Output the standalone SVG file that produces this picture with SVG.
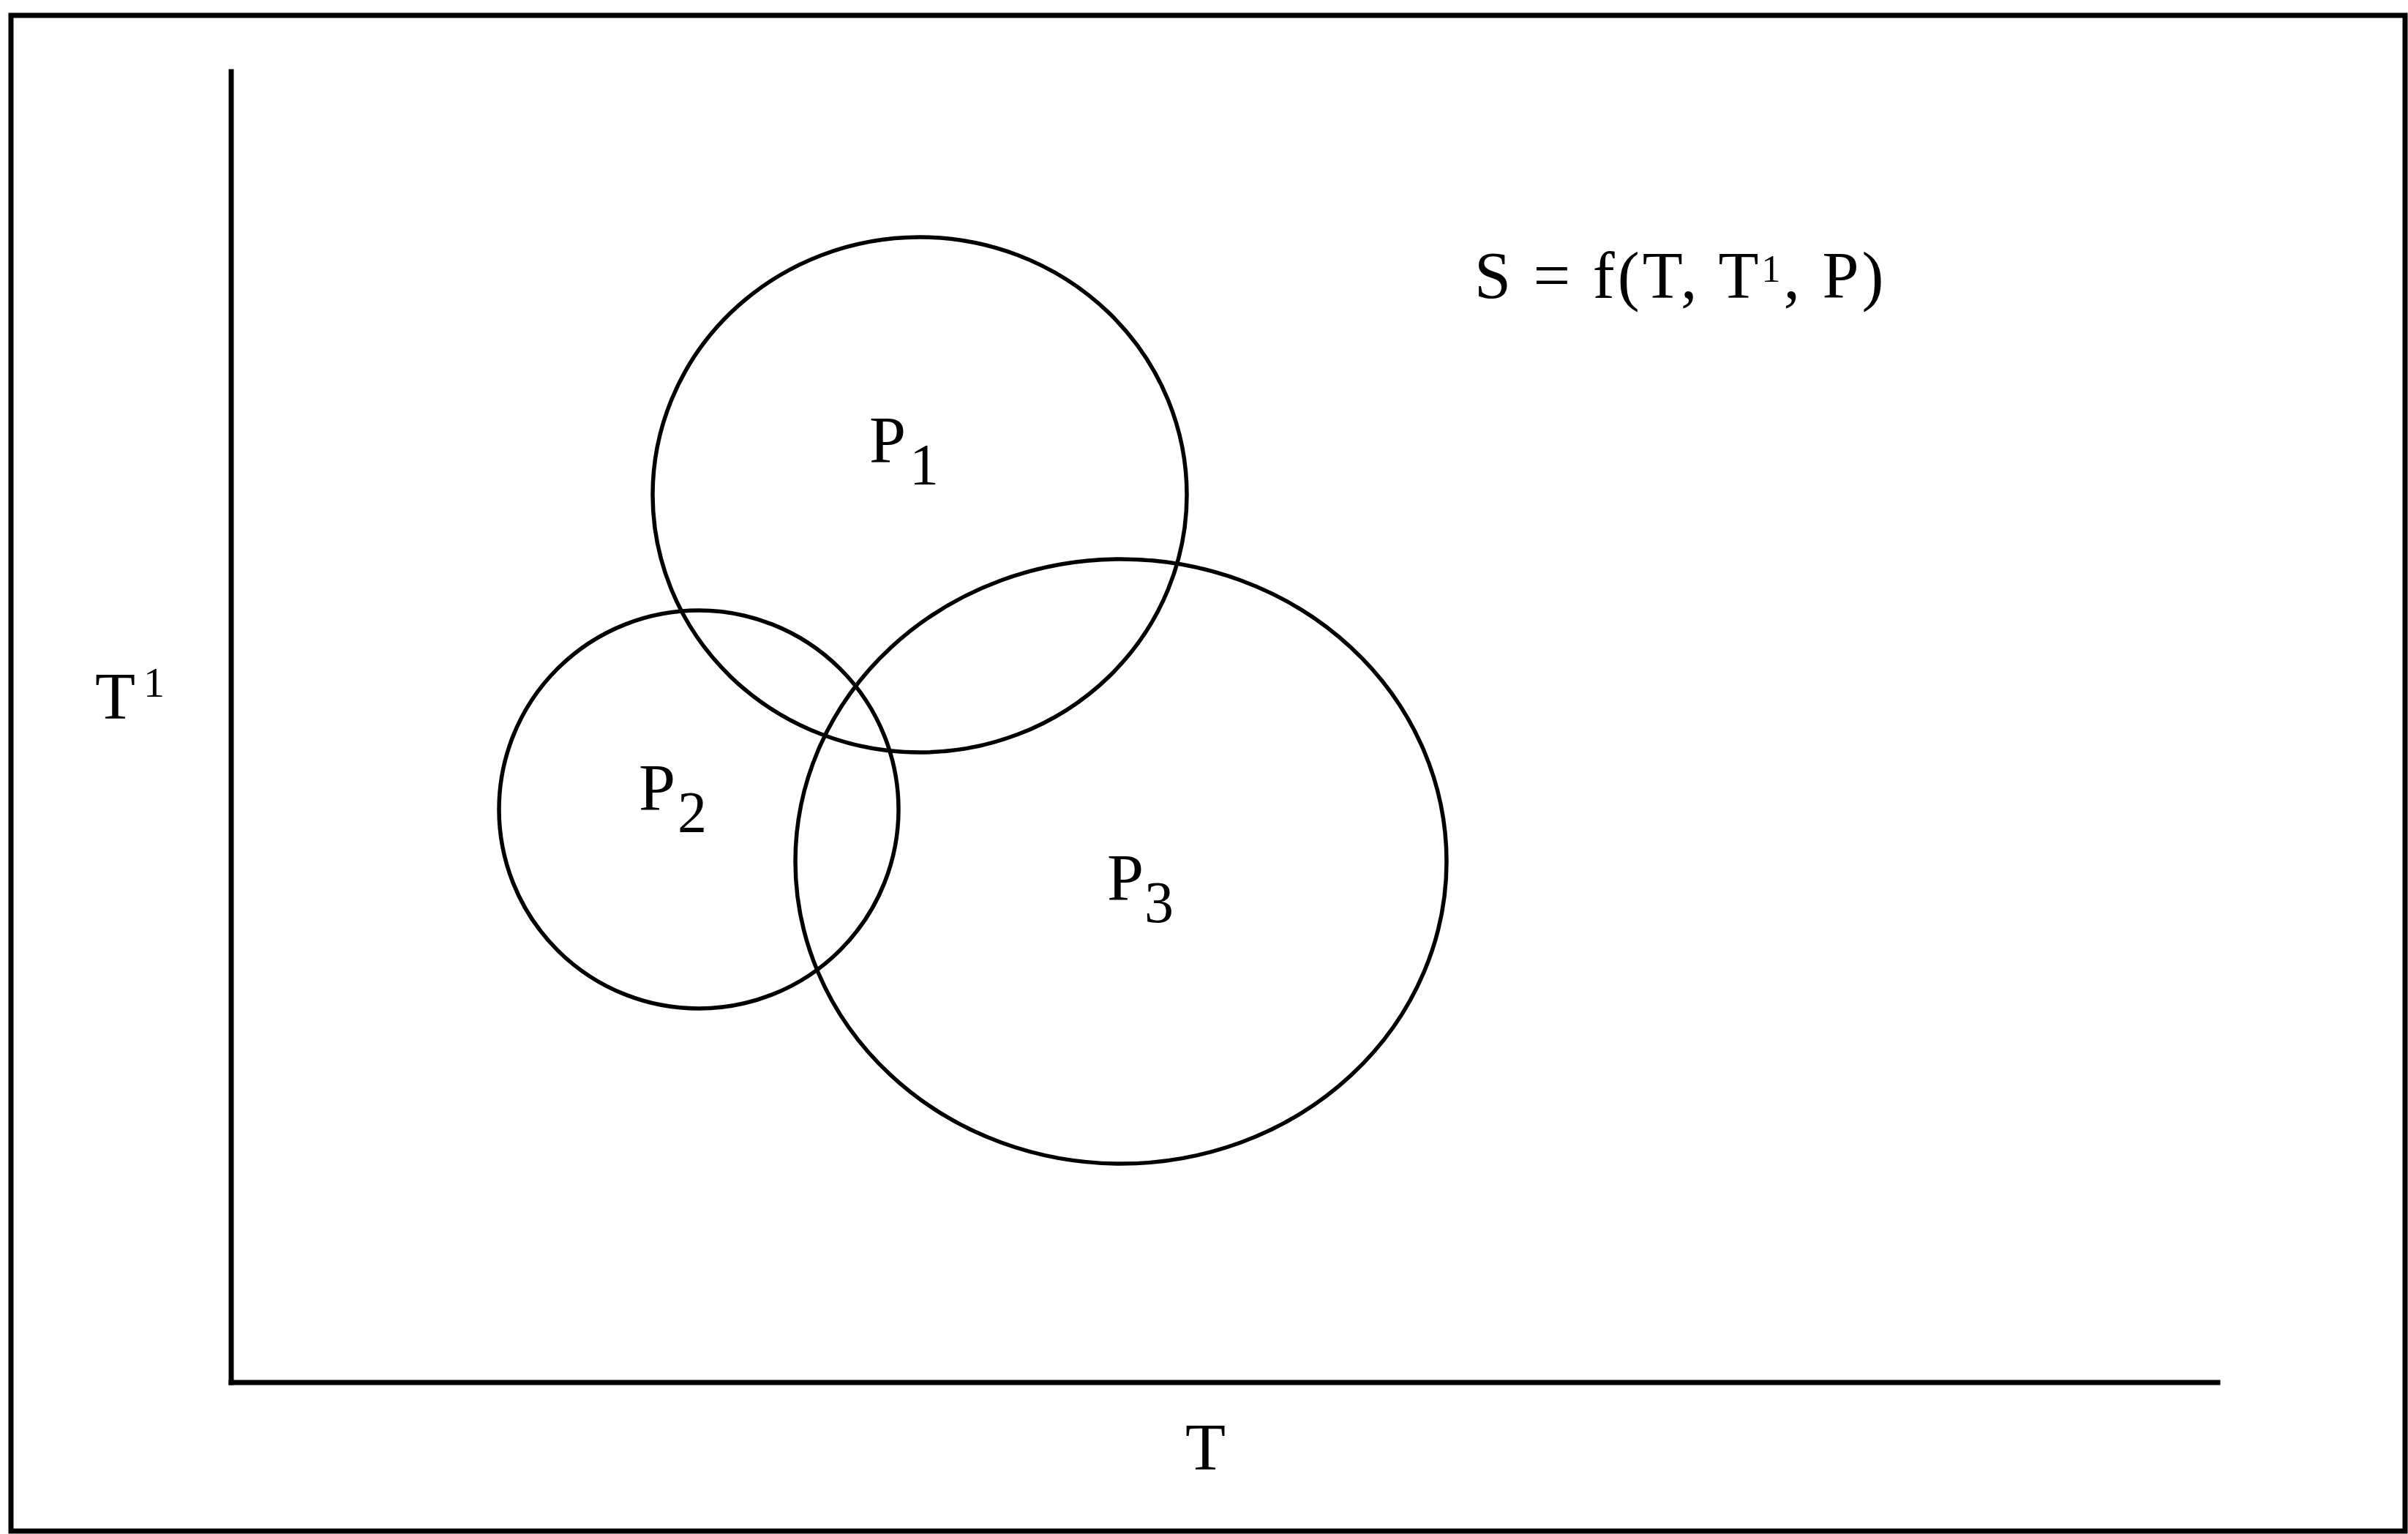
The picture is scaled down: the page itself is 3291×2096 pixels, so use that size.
<svg xmlns="http://www.w3.org/2000/svg" width="3291" height="2096" viewBox="0 0 3291 2096">
<style>
.ln{fill:none;stroke:#000;stroke-width:7;stroke-linecap:square}
.c{fill:none;stroke:#000;stroke-width:5.5}
.t{font-family:"Liberation Serif","Times New Roman",serif;font-size:90px;fill:#000}
</style>
<rect x="0" y="0" width="3291" height="2096" fill="#fff"/>
<rect id="frame" x="15" y="21" width="3272" height="2071" class="ln" stroke-width="5"/>
<g id="connectors">
<line id="y-axis" class="ln" x1="316" y1="98" x2="316" y2="1889"/>
<line id="x-axis" class="ln" x1="316" y1="1889" x2="3031" y2="1889"/>
</g>
<g id="P1"><ellipse class="c" cx="1257" cy="676" rx="365" ry="352"/><text class="t" x="1188" y="632">P<tspan x="1243" y="662" font-size="80">1</tspan></text></g>
<g id="P2"><ellipse class="c" cx="955" cy="1106" rx="273" ry="272"/><text class="t" x="873" y="1107">P<tspan x="926" y="1137" font-size="80">2</tspan></text></g>
<g id="P3"><ellipse class="c" cx="1532" cy="1177" rx="445" ry="413"/><text class="t" x="1513" y="1230">P<tspan x="1564" y="1260" font-size="80">3</tspan></text></g>
<g id="label-T1"><text class="t" x="130" y="982">T<tspan x="196" y="952" font-size="58">1</tspan></text></g>
<g id="label-T"><text class="t" x="1620" y="2008">T</text></g>
<g id="formula"><text class="t" x="2015" y="407" font-size="97" letter-spacing="4">S = f(T, T<tspan font-size="52" dy="-22">1</tspan><tspan dy="22">, P)</tspan></text></g>
</svg>
